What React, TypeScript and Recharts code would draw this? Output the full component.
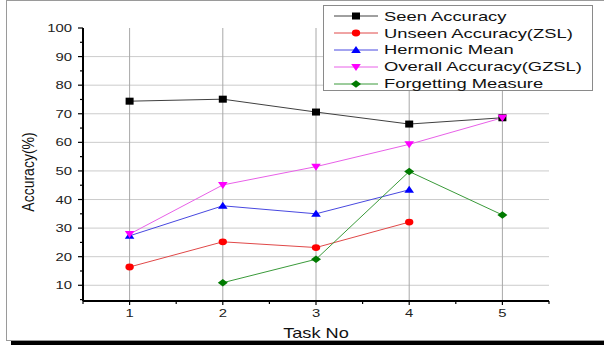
import React from 'react';
import { LineChart, Line, XAxis, YAxis, CartesianGrid, Legend } from 'recharts';

const tasks = [1, 2, 3, 4, 5];
const seenAccuracy = [74.4, 75.1, 70.6, 66.4, 68.6];
const unseenAccuracy = [16.4, 25.2, 23.2, 32.1, null];
const harmonicMean = [27.3, 37.8, 35.0, 43.4, null];
const overallAccuracy = [27.9, 45.1, 51.5, 59.3, 68.6];
const forgettingMeasure = [null, 10.9, 19.1, 49.8, 34.6];

const xTicks = [0.5, 1, 1.5, 2, 2.5, 3, 3.5, 4, 4.5, 5, 5.5];
const yTicks = [5, 10, 15, 20, 25, 30, 35, 40, 45, 50, 55, 60, 65, 70, 75, 80, 85, 90, 95, 100];
const gridY = [10, 20, 30, 40, 50, 60, 70, 80, 90];
const gridX = [1, 2, 3, 4, 5];

const series = [
  { key: 'seen', name: 'Seen Accuracy', marker: 'square', color: '#000000', line: '#404040' },
  { key: 'unseen', name: 'Unseen Accuracy(ZSL)', marker: 'circle', color: '#ff0000', line: '#e04848' },
  { key: 'harmonic', name: 'Hermonic Mean', marker: 'up', color: '#0000ff', line: '#4848e0' },
  { key: 'overall', name: 'Overall Accuracy(GZSL)', marker: 'down', color: '#ff00ff', line: '#e860e8' },
  { key: 'forgetting', name: 'Forgetting Measure', marker: 'diamond', color: '#007a00', line: '#3a9a3a' },
];

const data = tasks.map((t, i) => ({
  task: t,
  seen: seenAccuracy[i],
  unseen: unseenAccuracy[i],
  harmonic: harmonicMean[i],
  overall: overallAccuracy[i],
  forgetting: forgettingMeasure[i],
}));

const FONT = '"Liberation Sans", Arial, Helvetica, sans-serif';

function markerShape(kind: string, cx: number, cy: number, color: string) {
  switch (kind) {
    case 'square':
      return <rect x={cx - 4} y={cy - 3.5} width={8} height={7} fill={color} />;
    case 'circle':
      return <ellipse cx={cx} cy={cy} rx={4.2} ry={3.4} fill={color} />;
    case 'up':
      return <polygon points={`${cx - 4.8},${cy + 3} ${cx + 4.8},${cy + 3} ${cx},${cy - 4}`} fill={color} />;
    case 'down':
      return <polygon points={`${cx - 4.8},${cy - 3} ${cx + 4.8},${cy - 3} ${cx},${cy + 4}`} fill={color} />;
    default:
      return <polygon points={`${cx - 5},${cy} ${cx},${cy - 3.8} ${cx + 5},${cy} ${cx},${cy + 3.8}`} fill={color} />;
  }
}

const makeDot = (kind: string, color: string) => (props: any) => {
  const { cx, cy, index, value } = props;
  if (value == null || cx == null || cy == null) return <g key={`e-${kind}-${index}`} />;
  return <g key={`d-${kind}-${index}`}>{markerShape(kind, cx, cy, color)}</g>;
};

const YTick = (props: any) => {
  const { x, y, payload } = props;
  const v = payload.value;
  const major = v % 10 === 0;
  return (
    <g>
      <line x1={x - (major ? 5 : 3)} x2={x} y1={y} y2={y} stroke="#000" strokeWidth={1.2} />
      {major && (
        <text
          transform={`translate(${x - 11},${y + 4}) scale(1.35,1)`}
          textAnchor="end"
          fontSize={11}
          fill="#222"
          fontFamily={FONT}
        >
          {v}
        </text>
      )}
    </g>
  );
};

const XTick = (props: any) => {
  const { x, y, payload } = props;
  const v = payload.value;
  const major = Number.isInteger(v);
  return (
    <g>
      <line x1={x} x2={x} y1={y} y2={y + (major ? 4 : 3)} stroke="#000" strokeWidth={1.2} />
      {major && (
        <text
          transform={`translate(${x},${y + 16}) scale(1.35,1)`}
          textAnchor="middle"
          fontSize={11}
          fill="#222"
          fontFamily={FONT}
        >
          {v}
        </text>
      )}
    </g>
  );
};

const LegendBox = () => (
  <div
    style={{
      width: 270,
      height: 86,
      boxSizing: 'border-box',
      border: '1px solid #8a8a8a',
      background: '#fff',
      paddingTop: 2,
      fontFamily: FONT,
    }}
  >
    {series.map(s => (
      <div key={s.key} style={{ height: 16.8, display: 'flex', alignItems: 'center', position: 'relative' }}>
        <svg width={56} height={16} style={{ marginLeft: 8 }}>
          <line x1={2} x2={46} y1={8} y2={8} stroke={s.line} strokeWidth={1} />
          {markerShape(s.marker, 24, 8, s.color)}
        </svg>
        <span
          style={{
            display: 'inline-block',
            fontSize: 13.5,
            color: '#111',
            transform: 'scaleX(1.36)',
            transformOrigin: 'left center',
            whiteSpace: 'nowrap',
            marginLeft: -4,
          }}
        >
          {s.name}
        </span>
      </div>
    ))}
  </div>
);

export default function App() {
  return (
    <div
      style={{
        position: 'absolute',
        left: 0,
        top: 0,
        width: 604,
        height: 347,
        overflow: 'hidden',
        background: '#fff',
        fontFamily: FONT,
      }}
    >
      <div
        style={{
          position: 'absolute',
          left: 6,
          top: 0,
          width: 640,
          height: 341,
          boxSizing: 'border-box',
          border: '1px solid #9a9a9a',
          boxShadow: '5px 4px 0 #000',
        }}
      />
      <div style={{ position: 'absolute', left: 0, top: 0 }}>
        <LineChart width={604} height={347} data={data} margin={{ top: 28, right: 55, bottom: 16, left: 23 }}>
          <CartesianGrid horizontal={true} vertical={false} horizontalValues={gridY} stroke="#cccccc" strokeWidth={1} />
          <CartesianGrid horizontal={false} vertical={true} verticalValues={gridX} stroke="#a8a8a8" strokeWidth={1} />
          <XAxis
            dataKey="task"
            type="number"
            domain={[0.5, 5.5]}
            ticks={xTicks}
            interval={0}
            tickSize={0}
            tickMargin={0}
            tickLine={false}
            tick={<XTick />}
            axisLine={{ stroke: '#000', strokeWidth: 2 }}
            height={30}
          />
          <YAxis
            type="number"
            domain={[4.5, 100]}
            ticks={yTicks}
            interval={0}
            tickSize={0}
            tickMargin={0}
            tickLine={false}
            tick={<YTick />}
            axisLine={{ stroke: '#000', strokeWidth: 2 }}
            width={60}
          />
          <Legend
            content={<LegendBox />}
            layout="horizontal"
            verticalAlign="middle"
            align="center"
            wrapperStyle={{ position: 'absolute', left: 323, top: 5, width: 270, height: 86 }}
          />
          {series.map(s => (
            <Line
              key={s.key}
              dataKey={s.key}
              name={s.name}
              type="linear"
              stroke={s.line}
              strokeWidth={1}
              dot={makeDot(s.marker, s.color)}
              activeDot={false}
              isAnimationActive={false}
            />
          ))}
        </LineChart>
      </div>
      <svg width={604} height={347} style={{ position: 'absolute', left: 0, top: 0, pointerEvents: 'none' }}>
        <text
          transform="translate(34,172) scale(1.2,1) rotate(-90)"
          textAnchor="middle"
          fontSize={14}
          fill="#111"
          fontFamily={FONT}
        >
          Accuracy(%)
        </text>
        <text
          transform="translate(316,338) scale(1.3,1)"
          textAnchor="middle"
          fontSize={14}
          fill="#111"
          fontFamily={FONT}
        >
          Task No
        </text>
      </svg>
    </div>
  );
}
